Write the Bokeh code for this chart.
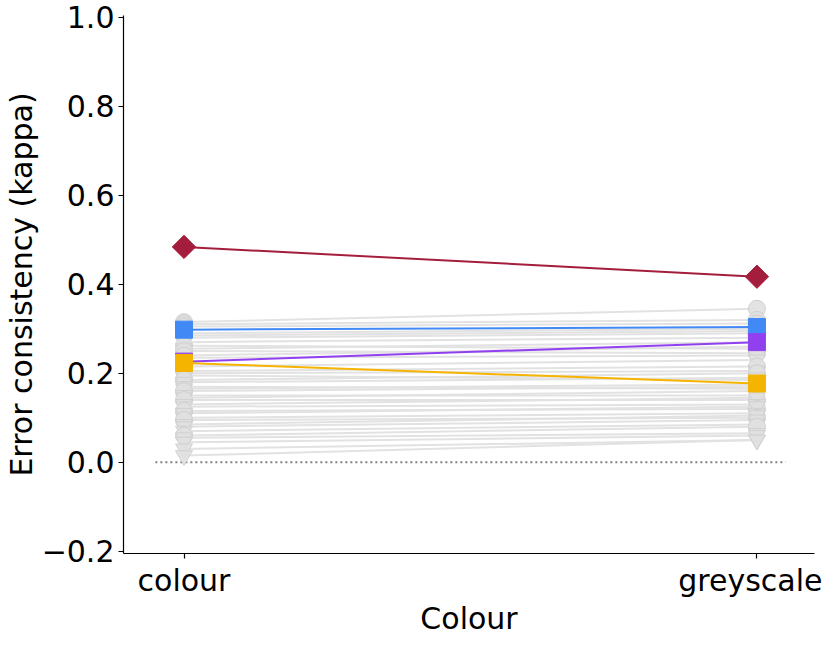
import numpy as np
from bokeh.plotting import figure
from bokeh.models import FixedTicker, Range1d
from bokeh.embed import file_html
from bokeh.resources import INLINE

# ---- data ----
conditions = ["colour", "greyscale"]
cond_x = [0, 1]
y_ticks = [-0.2, 0.0, 0.2, 0.4, 0.6, 0.8, 1.0]
y_tick_labels = ["\u22120.2", "0.0", "0.2", "0.4", "0.6", "0.8", "1.0"]

grey_colour = [0.315, 0.310, 0.305, 0.290, 0.285, 0.280, 0.270, 0.262, 0.255, 0.250,
               0.240, 0.235, 0.215, 0.205, 0.200, 0.195, 0.185, 0.180, 0.170, 0.165,
               0.160, 0.150, 0.145, 0.140, 0.130, 0.125, 0.115, 0.110, 0.100, 0.095,
               0.085, 0.080, 0.070, 0.060, 0.055, 0.045, 0.030, 0.015]
grey_greyscale = [0.345, 0.320, 0.312, 0.300, 0.295, 0.290, 0.280, 0.255, 0.270, 0.245,
                  0.260, 0.240, 0.230, 0.215, 0.205, 0.185, 0.200, 0.190, 0.165, 0.175,
                  0.170, 0.150, 0.160, 0.140, 0.145, 0.130, 0.120, 0.125, 0.110, 0.100,
                  0.105, 0.095, 0.085, 0.080, 0.065, 0.060, 0.050, 0.050]
grey_marker = ["circle", "circle", "circle", "inverted_triangle", "circle", "inverted_triangle",
               "inverted_triangle", "circle", "inverted_triangle", "circle", "circle",
               "inverted_triangle", "inverted_triangle", "circle", "inverted_triangle",
               "inverted_triangle", "circle", "inverted_triangle", "inverted_triangle",
               "inverted_triangle", "circle", "inverted_triangle", "inverted_triangle", "circle",
               "inverted_triangle", "inverted_triangle", "circle", "inverted_triangle",
               "inverted_triangle", "circle", "inverted_triangle", "inverted_triangle",
               "inverted_triangle", "circle", "inverted_triangle", "inverted_triangle",
               "inverted_triangle", "inverted_triangle"]

hl_names = ["red", "blue", "purple", "orange"]
hl_colour = [0.484, 0.298, 0.226, 0.223]
hl_greyscale = [0.417, 0.304, 0.270, 0.177]
hl_colors = ["#A51D3C", "#4189F5", "#9140F0", "#F5B400"]
hl_marker = ["diamond", "square", "square", "square"]

FONT = "DejaVu Sans"
FS = "30px"

p = figure(width=822, height=638, output_backend="svg", toolbar_location=None,
           x_range=Range1d(-0.1056, 1.1005), y_range=Range1d(-0.205, 1.004),
           min_border_top=15, min_border_right=8, min_border_left=0, min_border_bottom=0)
p.outline_line_color = None
p.grid.visible = False
p.background_fill_color = "white"

# zero reference line
p.line(x=[-0.05, 1.05], y=[0, 0], line_color="#808080", line_width=2, line_dash="2 3")

# grey lines
for a, b in zip(grey_colour, grey_greyscale):
    p.line(x=cond_x, y=[a, b], line_color="#e2e2e2", line_width=2)

# grey markers
for a, b, m in zip(grey_colour, grey_greyscale, grey_marker):
    p.scatter(x=cond_x, y=[a, b], marker=m, size=17, fill_color="#e0e0e0",
              fill_alpha=0.9, line_color="#d0d0d0", line_width=1)

# highlighted models
for a, b, c, m in zip(hl_colour, hl_greyscale, hl_colors, hl_marker):
    p.line(x=cond_x, y=[a, b], line_color=c, line_width=2)
    if m == "diamond":
        p.scatter(x=cond_x, y=[a, b], marker="square", angle=np.pi / 4, size=16.5,
                  fill_color=c, line_color=c)
    else:
        p.scatter(x=cond_x, y=[a, b], marker="square", size=17, fill_color=c, line_color=c)

# axes
p.xaxis.ticker = FixedTicker(ticks=cond_x)
p.xaxis.major_label_overrides = dict(zip(cond_x, conditions))
p.yaxis.ticker = FixedTicker(ticks=y_ticks)
p.yaxis.major_label_overrides = dict(zip(y_ticks, y_tick_labels))
p.xaxis.axis_label = "Colour"
p.yaxis.axis_label = "Error consistency (kappa)"
for ax in (p.xaxis[0], p.yaxis[0]):
    ax.axis_line_color = "black"
    ax.axis_line_width = 1.2
    ax.major_tick_line_color = "black"
    ax.major_tick_line_width = 1.2
    ax.major_tick_out = 5
    ax.major_tick_in = 0
    ax.minor_tick_line_color = None
    ax.major_label_text_font = FONT
    ax.major_label_text_font_size = FS
    ax.major_label_text_color = "black"
    ax.axis_label_text_font = FONT
    ax.axis_label_text_font_size = FS
    ax.axis_label_text_font_style = "normal"
    ax.axis_label_text_color = "black"
    ax.major_label_standoff = 4
    ax.axis_label_standoff = 0

open("out.html", "w").write(file_html(p, INLINE))
